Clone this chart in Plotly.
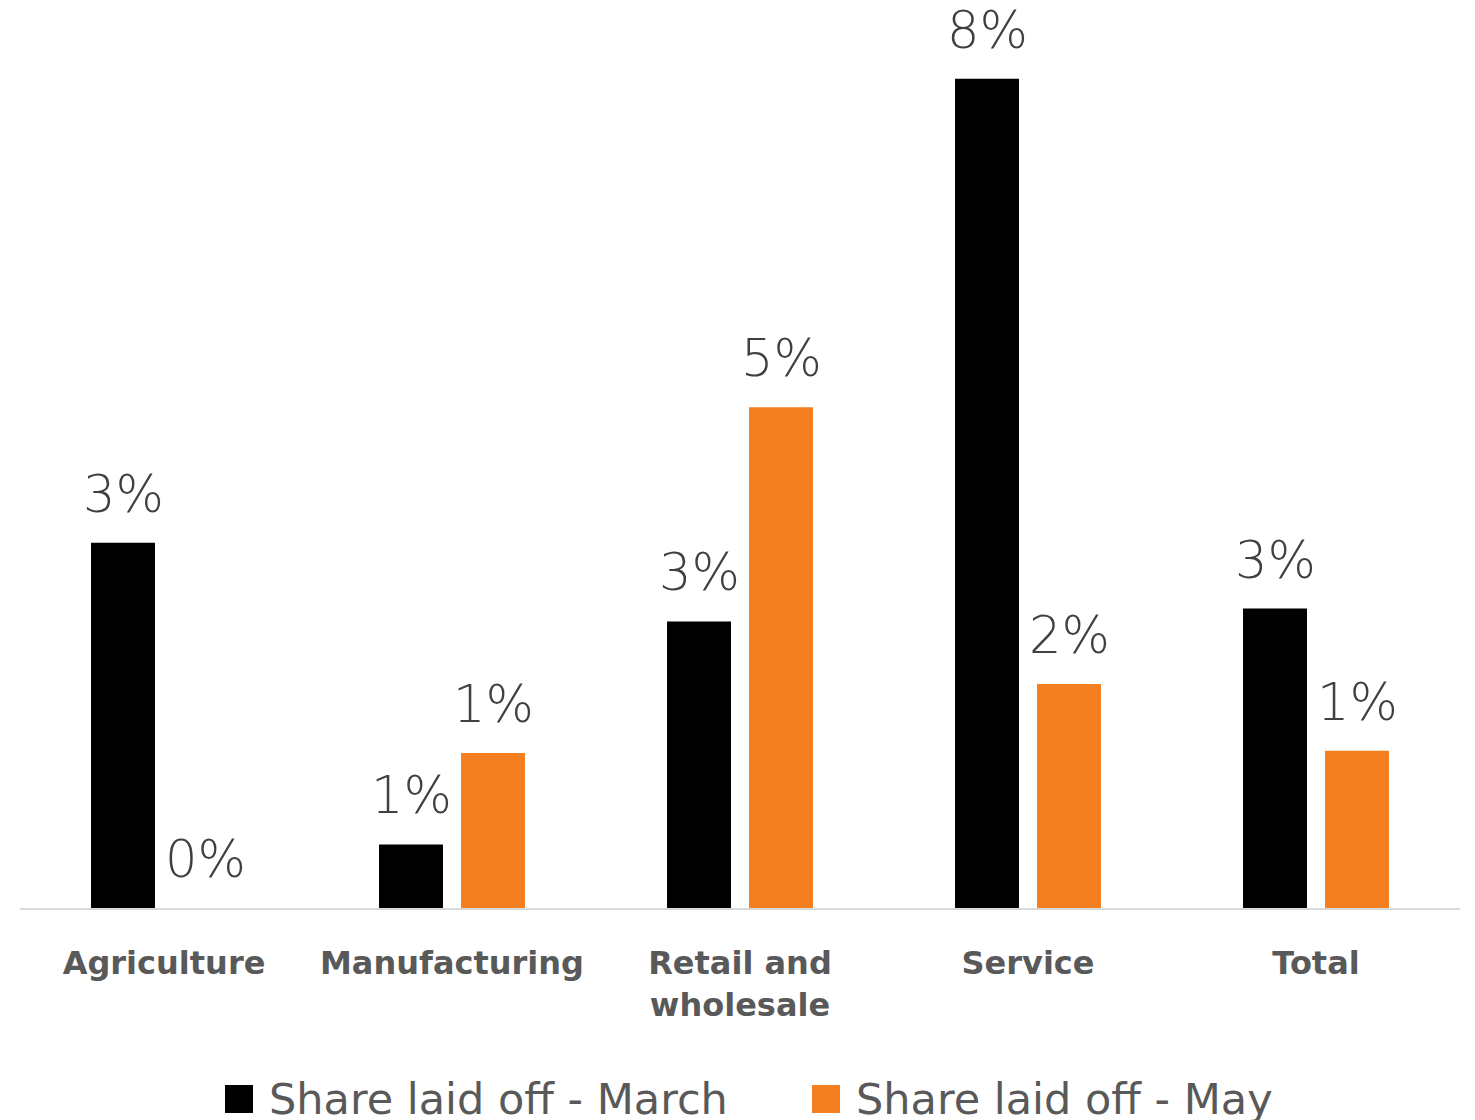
import plotly.graph_objects as go

# Share of workers laid off, by sector
sectors = ["Agriculture", "Manufacturing", "Retail and<br>wholesale", "Service", "Total"]
laid_off_march = [0.0339, 0.0059, 0.0266, 0.0770, 0.0278]
laid_off_may = [0.0000, 0.0144, 0.0465, 0.0208, 0.0146]
series_names = ["Share laid off - March", "Share laid off - May"]
series_colors = ["#000000", "#F47F20"]

W, H = 1475, 1120
ML, MR, MT, MB = 20, 15, 0, 212
BAR_STEP = 82  # px between the centres of the two bars in a group

label_font = dict(family="DejaVu Sans", size=51, color="#404040", weight=200)

fig = go.Figure()
for name, vals, col in zip(series_names, [laid_off_march, laid_off_may], series_colors):
    fig.add_trace(go.Bar(
        x=sectors, y=vals, name=name,
        marker=dict(color=col, line=dict(width=0)),
        showlegend=False, hoverinfo="x+y+name",
    ))

# Value labels above each bar
for j, vals in enumerate([laid_off_march, laid_off_may]):
    for cat, v in zip(sectors, vals):
        fig.add_annotation(
            x=cat, y=v, xref="x", yref="y", text=f"{v:.0%}",
            showarrow=False, xanchor="center", yanchor="bottom",
            xshift=(j - 0.5) * BAR_STEP, yshift=17,
            font=label_font,
        )

fig.update_layout(
    width=W, height=H,
    margin=dict(l=ML, r=MR, t=MT, b=MB),
    paper_bgcolor="white", plot_bgcolor="white",
    barmode="group", bargap=0.4306, bargroupgap=0.22,
    xaxis=dict(
        showline=True, linecolor="#D9D9D9", linewidth=2,
        ticks="", showgrid=False,
        tickfont=dict(family="DejaVu Sans", size=32, color="#595959", weight="bold"),
        ticklabelstandoff=26,
    ),
    yaxis=dict(range=[0, 0.0843], visible=False, showgrid=False),
    font=dict(family="DejaVu Sans"),
)

# Legend drawn as square swatches with text beneath the chart
plot_w = W - ML - MR
plot_h = H - MT - MB
def px_x(px):
    return (px - ML) / plot_w
def px_y(py):
    return (H - MB - py) / plot_h

legend_x = [225, 812]
for name, col, lx in zip(series_names, series_colors, legend_x):
    fig.add_shape(type="rect", xref="paper", yref="paper",
                  x0=px_x(lx), x1=px_x(lx + 28), y0=px_y(1113), y1=px_y(1085),
                  fillcolor=col, line=dict(width=0))
    fig.add_annotation(xref="paper", yref="paper", x=px_x(lx + 42), y=px_y(1099),
                       text=name, showarrow=False, xanchor="left", yanchor="middle",
                       font=dict(family="DejaVu Sans", size=43, color="#595959"))

fig.write_html("out.html")
